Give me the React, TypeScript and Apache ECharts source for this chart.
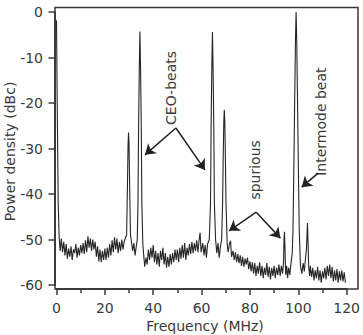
import React, { useEffect, useRef } from "react";
import * as echarts from "echarts";

type Pt = [number, number];

// Frequency (MHz), power density (dBc)
const dcEdge: Pt[] = [[0, -1.8], [0.3, -20], [0.7, -42], [1.1, -49.5]];
const noiseLow: Pt[] = [
  [1.5, -52.5], [2.0, -49.8], [2.5, -52.8], [3.0, -50.5], [3.5, -53.5], [4.0, -51.0], [4.5, -54.2],
  [5.0, -52.0], [5.5, -53.8], [6.0, -51.5], [6.5, -54.5], [7.0, -52.2], [7.5, -53.0], [8.0, -51.0],
  [8.5, -54.0], [9.0, -51.8], [9.5, -53.5], [10.0, -51.2], [10.5, -53.0], [11.0, -50.8], [11.5, -53.2],
  [12.0, -50.2], [12.5, -52.8], [13.0, -49.3], [13.5, -51.8], [14.0, -49.8], [14.5, -52.5], [15.0, -50.0],
  [15.5, -52.2], [16.0, -50.5], [16.5, -53.8], [17.0, -51.5], [17.5, -54.8], [18.0, -52.2], [18.5, -55.0],
  [19.0, -52.5], [19.5, -54.5], [20.0, -52.0], [20.5, -54.5], [21.0, -51.8], [21.5, -54.0], [22.0, -51.0],
  [22.5, -53.5], [23.0, -50.2], [23.5, -52.8], [24.0, -49.5], [24.5, -52.2], [25.0, -49.8], [25.5, -53.0],
  [26.0, -50.5], [26.5, -52.5], [27.0, -50.0], [27.5, -52.2], [28.0, -50.5], [28.6, -49.5],
];
const ceoPeak1: Pt[] = [[29.0, -49], [29.35, -38], [29.6, -29], [29.8, -26.5], [30.0, -29], [30.25, -38], [30.6, -49]];
const noiseGap1: Pt[] = [[31.0, -50.5], [31.5, -52.5], [32.0, -50.8], [32.5, -53.5], [33.0, -51.5], [33.4, -50]];
const ceoPeak2: Pt[] = [[33.7, -42], [33.95, -25], [34.25, -12], [34.5, -4.3], [34.75, -12], [35.05, -25], [35.3, -42], [35.7, -51]];
const noiseMid: Pt[] = [
  [36.0, -53.0], [36.5, -56.0], [37.0, -54.0], [37.5, -55.5], [38.0, -52.2], [38.5, -54.5], [39.0, -51.8],
  [39.5, -54.0], [40.0, -51.2], [40.5, -55.0], [41.0, -52.5], [41.5, -55.5], [42.0, -53.0], [42.5, -56.0],
  [43.0, -52.5], [43.5, -54.5], [44.0, -51.8], [44.5, -55.5], [45.0, -53.0], [45.5, -56.2], [46.0, -53.8],
  [46.5, -56.0], [47.0, -53.2], [47.5, -55.5], [48.0, -53.0], [48.5, -55.0], [49.0, -52.2], [49.5, -54.5],
  [50.0, -52.2], [50.5, -55.0], [51.0, -51.8], [51.5, -54.2], [52.0, -51.2], [52.5, -54.0], [53.0, -50.8],
  [53.5, -54.5], [54.0, -51.8], [54.5, -53.5], [55.0, -51.0], [55.5, -53.2], [56.0, -50.5], [56.5, -53.0],
  [57.0, -50.8], [57.5, -52.5], [58.0, -50.2], [58.5, -52.8], [59.0, -50.0], [59.4, -48.5], [59.8, -52.8],
  [60.5, -50.8], [61.0, -53.5], [61.5, -51.2], [62.0, -54.0], [62.5, -51.0], [63.2, -50.0],
];
const ceoPeak3: Pt[] = [[63.7, -42], [63.95, -25], [64.25, -12], [64.5, -4.4], [64.75, -12], [65.05, -25], [65.3, -42], [65.8, -50]];
const noiseGap2: Pt[] = [[66.3, -53.0], [66.8, -50.8], [67.3, -54.0], [67.8, -51.5], [68.3, -50]];
const ceoPeak4: Pt[] = [[68.7, -42], [68.95, -32], [69.2, -24], [69.4, -21.5], [69.6, -24], [69.85, -32], [70.1, -42], [70.6, -51]];
const noiseHigh: Pt[] = [
  [71.0, -52.8], [71.5, -51.0], [72.0, -50.3], [72.4, -53.8], [73.0, -52.5], [73.5, -54.5], [74.0, -52.8],
  [74.5, -55.0], [75.0, -53.2], [75.5, -55.2], [76.0, -53.5], [76.5, -55.8], [77.0, -53.8], [77.5, -56.0],
  [78.0, -54.2], [78.5, -55.5], [79.0, -54.0], [79.5, -56.5], [80.0, -54.8], [80.5, -57.0], [81.0, -55.0],
  [81.5, -57.5], [82.0, -55.2], [82.5, -58.0], [83.0, -55.8], [83.5, -57.5], [84.0, -55.0], [84.5, -58.0],
  [85.0, -55.8], [85.5, -58.5], [86.0, -56.2], [86.5, -57.8], [87.0, -55.2], [87.5, -58.2], [88.0, -56.0],
  [88.5, -58.8], [89.0, -56.2], [89.5, -58.0], [90.0, -55.8], [90.5, -58.5], [91.0, -56.2], [91.5, -57.8],
  [92.0, -55.5], [92.5, -58.0], [93.0, -55.8], [93.5, -57.5],
];
const spur1: Pt[] = [[93.9, -55], [94.1, -50], [94.3, -48.3], [94.5, -52], [94.8, -57.8]];
const noisePre: Pt[] = [[95.2, -55.8], [95.6, -58.5], [96.0, -56.2], [96.5, -57.8], [97.0, -55.2], [97.5, -53]];
const intermodePeak: Pt[] = [[97.8, -48], [98.15, -35], [98.5, -20], [98.85, -6], [99.1, 0], [99.35, -6], [99.7, -20], [100.05, -35], [100.4, -48]];
const noisePost: Pt[] = [[100.9, -55.8], [101.5, -57.5], [102.0, -55.2], [102.5, -57.0], [103.0, -54], [103.4, -52]];
const spur2: Pt[] = [[103.6, -49], [103.8, -46.4], [104.0, -50], [104.3, -56]];
const noiseTail: Pt[] = [
  [104.7, -58.0], [105.0, -55.8], [105.5, -58.2], [106.0, -56.2], [106.5, -59.0], [107.0, -56.8], [107.5, -58.5],
  [108.0, -56.0], [108.5, -59.0], [109.0, -56.8], [109.5, -59.5], [110.0, -57.0], [110.5, -58.5], [111.0, -56.2],
  [111.5, -58.8], [112.0, -55.8], [112.5, -58.0], [113.0, -55.5], [113.5, -58.5], [114.0, -56.0], [114.5, -59.2],
  [115.0, -56.8], [115.5, -59.0], [116.0, -56.5], [116.5, -59.5], [117.0, -57.0], [117.5, -59.0], [118.0, -56.8],
  [118.5, -59.2], [119.0, -57.2], [119.5, -59.5],
];

const spectrum: Pt[] = [
  ...dcEdge, ...noiseLow, ...ceoPeak1, ...noiseGap1, ...ceoPeak2, ...noiseMid, ...ceoPeak3, ...noiseGap2,
  ...ceoPeak4, ...noiseHigh, ...spur1, ...noisePre, ...intermodePeak, ...noisePost, ...spur2, ...noiseTail,
];

// annotation labels (data coordinates of their centres)
const labels: { text: string; at: Pt }[] = [
  { text: "CEO-beats", at: [47.4, -16.7] },
  { text: "spurious", at: [82.2, -34.7] },
  { text: "Intermode beat", at: [109.6, -24.1] },
];
// arrows: [from, to]
const arrows: [Pt, Pt][] = [
  [[49.4, -25.5], [36.6, -31.4]],
  [[49.4, -25.5], [61.4, -34.7]],
  [[82.6, -44.0], [71.4, -48.1]],
  [[82.6, -44.0], [92.6, -49.7]],
  [[108.2, -35.4], [101.4, -38.5]],
];

const FONT = "DejaVu Sans";
const TEXT = "#3a3a3a";
const AXIS = "#3a3a3a";

export default function App() {
  const ref = useRef<HTMLDivElement>(null);
  useEffect(() => {
    if (!ref.current) return;
    const chart = echarts.init(ref.current, undefined, { renderer: "svg" });
    chart.setOption({
      animation: false,
      backgroundColor: "#ffffff",
      grid: { left: 56.5, right: 7, top: 12, bottom: 50 },
      xAxis: {
        type: "value",
        min: 0,
        max: 120,
        interval: 20,
        offset: 4,
        axisLine: { show: true, onZero: false, lineStyle: { color: AXIS, width: 2 } },
        axisTick: { show: true, length: 6, lineStyle: { color: AXIS, width: 1.5 } },
        minorTick: { show: true, splitNumber: 2, length: 4, lineStyle: { color: AXIS, width: 1.5 } },
        axisLabel: { color: TEXT, fontFamily: FONT, fontSize: 14, margin: 12 },
        splitLine: { show: false },
      },
      yAxis: {
        type: "value",
        min: -60,
        max: 0,
        interval: 10,
        offset: 1.5,
        axisLine: { show: true, onZero: false, lineStyle: { color: AXIS, width: 2 } },
        axisTick: { show: true, length: 6.5, lineStyle: { color: AXIS, width: 1.5 } },
        axisLabel: { color: TEXT, fontFamily: FONT, fontSize: 14, margin: 12 },
        splitLine: { show: false },
      },
      series: [
        {
          type: "line",
          data: spectrum,
          showSymbol: false,
          symbol: "none",
          lineStyle: { color: "#262626", width: 1.1 },
          clip: false,
          markLine: {
            silent: true,
            symbol: ["none", "arrow"],
            symbolSize: 10,
            label: { show: false },
            lineStyle: { color: "#222222", width: 1.5, type: "solid" },
            data: arrows.map(([a, b]) => [{ coord: a }, { coord: b }]),
          },
        },
      ],
    });
    const textEls = labels.map((l) => {
      const [px, py] = chart.convertToPixel({ gridIndex: 0 }, l.at) as number[];
      return {
        type: "text",
        x: px,
        y: py,
        rotation: Math.PI / 2,
        style: {
          text: l.text,
          fontFamily: FONT,
          fontSize: 14,
          fill: TEXT,
          textAlign: "center",
          textVerticalAlign: "middle",
        },
      };
    });
    chart.setOption({
      graphic: [
        {
          type: "rect",
          shape: { x: 55, y: 7.5, width: 303, height: 281.5 },
          style: { fill: "none", stroke: AXIS, lineWidth: 1.5 },
          silent: true,
        },
        {
          type: "text",
          x: 10,
          y: 151.5,
          rotation: Math.PI / 2,
          style: {
            text: "Power density (dBc)",
            fontFamily: FONT,
            fontSize: 14,
            fill: TEXT,
            textAlign: "center",
            textVerticalAlign: "middle",
          },
        },
        {
          type: "text",
          x: 205,
          y: 326,
          style: {
            text: "Frequency (MHz)",
            fontFamily: FONT,
            fontSize: 14,
            fill: TEXT,
            textAlign: "center",
            textVerticalAlign: "middle",
          },
        },
        ...textEls,
      ],
    });
    return () => chart.dispose();
  }, []);
  return <div ref={ref} style={{ width: 363, height: 335, position: "fixed", left: 0, top: 0 }} />;
}
